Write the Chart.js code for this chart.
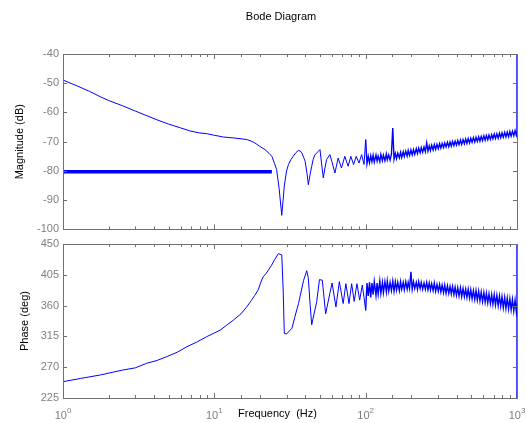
<!DOCTYPE html>
<html>
<head>
<meta charset="utf-8">
<script src="https://cdn.jsdelivr.net/npm/chart.js@4.4.0/dist/chart.umd.min.js"></script>
<style>
  body { margin: 0; background: #fff; }
  #wrap { position: relative; width: 526px; height: 423px; }
  canvas { position: absolute; left: 0; top: 0; }
</style>
</head>
<body>
<div id="wrap">
  <canvas id="mag" width="526" height="240"></canvas>
  <canvas id="phase" width="526" height="423"></canvas>
</div>
<script>
// magnitude, smooth part (Hz, dB)
const magFreq = [1, 1.2, 1.5, 1.76, 2, 2.5, 3, 3.5, 4.17, 5,
  6, 7, 8, 9, 10, 11.5, 13.3, 15, 16.5, 17.5,
  18.5, 20, 21.6, 23, 24, 25, 25.8, 26.8, 27.9, 29,
  30, 30.9, 32, 33.2, 34.5, 35.9, 37, 37.9, 39, 39.8,
  41, 41.8, 43, 44, 45, 46.3, 48.7, 49.9, 51, 52.5,
  53.8, 55.2, 58, 60, 62.6, 65.8, 69.2, 72.8, 76.6, 79.8,
  83.2, 86.6, 90.3, 94.1, 97.5];
const magDb = [-48.9, -50.6, -52.8, -54.6, -55.9, -57.8, -59.5, -60.9, -62.5, -64,
  -65.3, -66.4, -67, -67.3, -67.8, -68.4, -68.7, -69.0, -69.3, -69.8,
  -70.4, -71.6, -72.7, -74, -75, -77.5, -79.5, -86, -95.2, -85.2,
  -80, -77.8, -76.2, -75, -73.8, -73, -73.2, -73.9, -75.5, -76.7,
  -81, -84.7, -81, -78.4, -76, -74.4, -73.3, -72.7, -77, -82.4,
  -79, -76.1, -74.4, -77, -80.7, -75.6, -79, -75, -78.4, -75,
  -77.8, -75, -77.3, -74.4, -77.8];

// phase, smooth part (Hz, deg)
const phaseFreq = [1, 1.3, 1.76, 2.5, 3, 3.57, 4.2, 4.85, 5.7, 6.6,
  7.7, 8.9, 10, 10.9, 12, 13.4, 15, 16.4, 17.5, 18.5,
  19.5, 20.2, 21, 22, 23.9, 25, 26.5, 27.9, 28.5, 29,
  30, 32.6, 34, 36, 38.9, 40.8, 41.8, 43, 44, 47.5,
  49.5, 51.7, 54.4, 58, 60, 63.6, 67, 71, 74, 77.6,
  80.8, 84, 87.6, 91.3, 95, 97.5];
const phaseDeg = [248.8, 253.5, 258.6, 266, 269, 275.7, 280, 285.4, 292, 300,
  307, 314.6, 320, 324, 331, 339, 348, 358.4, 367, 375,
  383, 393, 402, 407, 419, 427, 436, 434, 383, 319.5,
  318.5, 327, 343, 363, 397, 411, 400, 360, 332, 366,
  398, 397, 348, 378, 393, 358, 395, 363, 392, 363,
  392, 366, 392, 368, 390, 372];

// noisy high-frequency part, shared frequencies
const noiseFreq = [100, 102, 104, 106, 108, 110, 112, 114, 117, 119,
  121, 124, 126, 129, 131, 134, 137, 139, 142, 145,
  148, 151, 154, 157, 160, 163, 167, 170, 173, 177,
  180, 184, 188, 191, 195, 199, 203, 207, 211, 216,
  220, 224, 229, 233, 238, 243, 248, 253, 258, 263,
  268, 273, 279, 284, 290, 296, 302, 308, 314, 320,
  327, 333, 340, 347, 354, 361, 368, 375, 383, 390,
  398, 406, 414, 423, 431, 440, 449, 458, 467, 476,
  486, 495, 505, 515, 526, 536, 547, 558, 569, 580,
  592, 604, 616, 628, 641, 653, 667, 680, 693, 707,
  721, 736, 751, 766, 781, 796, 812, 829, 845, 862,
  880, 897, 915, 933, 952, 971, 990, 1000];
const noiseMag = [-69.3, -77.5, -75.0, -77.2, -74.8, -76.8, -74.6, -77.0, -74.5, -76.6,
  -74.9, -76.8, -74.3, -76.4, -74.6, -76.5, -74.2, -76.2, -74.5, -76.3,
  -74.3, -65.3, -76.0, -74.0, -75.8, -73.9, -75.5, -73.6, -75.4, -73.4,
  -75.1, -73.2, -74.9, -73.0, -74.7, -72.8, -74.5, -72.7, -74.3, -72.4,
  -74.0, -72.2, -73.8, -72.0, -73.6, -71.8, -73.4, -70.4, -73.2, -71.4,
  -73.0, -71.2, -72.8, -71.0, -72.6, -70.9, -72.4, -70.7, -72.2, -70.6,
  -72.0, -70.4, -71.8, -70.2, -71.7, -70.1, -71.5, -69.9, -71.3, -69.8,
  -71.2, -69.6, -71.0, -69.4, -70.9, -69.3, -70.7, -69.1, -70.6, -68.9,
  -70.4, -68.8, -70.2, -68.6, -70.1, -68.5, -69.9, -68.3, -69.8, -68.2,
  -69.6, -68.0, -69.5, -67.9, -69.3, -67.7, -69.2, -67.6, -69.0, -67.4,
  -68.9, -67.3, -68.8, -67.1, -68.6, -67.0, -68.5, -66.8, -68.4, -66.7,
  -68.3, -66.5, -68.1, -66.4, -68.0, -66.2, -67.8, -66.5];
const noisePhase = [353, 393, 374, 394, 372, 393, 376, 395, 375, 393,
  377, 396, 378, 394, 379, 395, 380, 396, 381, 394,
  382, 396, 381, 395, 383, 394, 382, 395, 384, 394,
  383, 395, 384, 394, 385, 409.5, 384, 395, 385, 394,
  384, 395, 385, 394, 384, 393, 384, 394, 383, 393,
  383, 392, 382, 393, 381, 391, 381, 391, 380, 390,
  379, 390, 378, 389, 378, 388, 377, 388, 376, 387,
  375, 386, 374, 386, 373, 385, 373, 384, 372, 384,
  371, 383, 370, 382, 369, 382, 368, 381, 367, 380,
  366, 379, 365, 378, 364, 377, 363, 376, 362, 376,
  361, 375, 360, 374, 359, 373, 357, 372, 356, 371,
  355, 370, 354, 369, 352, 368, 351, 360];

// jump at the last sample (goes off the axes)
const magEndFreq = [1000];
const magEnd = [-35];
const phaseEndFreq = [1000, 1000];
const phaseEnd = [470, 200];

// thick flat line in the magnitude plot
const flatFreq = [1, 24];
const flatDb = [-80.3, -80.3];

const magTicks = [-100, -40, 10];
const phaseTicks = [225, 450, 45];
const decadeLabels = ['0', '1', '2', '3'];

const BLUE = '#0000ff';
const AXIS = '#707070';
const LABEL = '#7f7f7f';
Chart.defaults.font.family = '"Liberation Sans", Arial, sans-serif';
Chart.defaults.font.size = 11;

function toPoints(xs, ys) {
    return xs.map((x, i) => ({ x: x, y: ys[i] }));
}

// MATLAB style box with inward ticks on all four sides
const boxTicks = {
    id: 'boxTicks',
    afterDraw(chart, args, opts) {
        const { ctx, chartArea: a, scales } = chart;
        ctx.save();
        ctx.strokeStyle = AXIS;
        ctx.lineWidth = 1;
        ctx.beginPath();
        scales.x.ticks.forEach(t => {
            const px = Math.round(scales.x.getPixelForValue(t.value)) + 0.5;
            const lg = Math.log10(t.value);
            const len = Math.abs(lg - Math.round(lg)) < 1e-6 ? 5 : 3;
            ctx.moveTo(px, a.bottom); ctx.lineTo(px, a.bottom - len);
            ctx.moveTo(px, a.top); ctx.lineTo(px, a.top + len);
        });
        scales.y.ticks.forEach(t => {
            const py = Math.round(scales.y.getPixelForValue(t.value)) + 0.5;
            ctx.moveTo(a.left, py); ctx.lineTo(a.left + 4, py);
            ctx.moveTo(a.right, py); ctx.lineTo(a.right - 4, py);
        });
        ctx.stroke();
        ctx.strokeRect(Math.round(a.left) + 0.5, Math.round(a.top) + 0.5,
            Math.round(a.right - a.left), Math.round(a.bottom - a.top));

        if (opts.title) {
            ctx.fillStyle = '#000';
            ctx.font = '11px "Liberation Sans", Arial, sans-serif';
            ctx.textAlign = 'center';
            ctx.textBaseline = 'alphabetic';
            ctx.fillText(opts.title, 281, 20);
        }
        if (opts.xLabels) {
            ctx.textAlign = 'left';
            ctx.textBaseline = 'alphabetic';
            ctx.fillStyle = LABEL;
            decadeLabels.forEach(e => {
                const px = scales.x.getPixelForValue(Math.pow(10, +e));
                ctx.font = '11px "Liberation Sans", Arial, sans-serif';
                const w1 = ctx.measureText('10').width;
                ctx.font = '8px "Liberation Sans", Arial, sans-serif';
                const w2 = ctx.measureText(e).width;
                const x0 = px - (w1 + w2) / 2;
                ctx.font = '11px "Liberation Sans", Arial, sans-serif';
                ctx.fillText('10', x0, 419);
                ctx.font = '8px "Liberation Sans", Arial, sans-serif';
                ctx.fillText(e, x0 + w1, 413);
            });
            ctx.fillStyle = '#000';
            ctx.font = '11px "Liberation Sans", Arial, sans-serif';
            ctx.textAlign = 'center';
            ctx.fillText(opts.xLabels, 277.5, 417);
        }
        ctx.restore();
    }
};

function makeChart(id, datasets, yRange, yTitle, titlePad, padding, xHeight, extra) {
    return new Chart(document.getElementById(id), {
        type: 'line',
        data: { datasets: datasets },
        options: {
            responsive: false,
            animation: false,
            layout: { padding: padding },
            elements: { point: { radius: 0 }, line: { tension: 0 } },
            plugins: { legend: { display: false }, tooltip: { enabled: false }, boxTicks: extra },
            scales: {
                x: {
                    type: 'logarithmic', min: 1, max: 1000,
                    grid: { display: false }, border: { display: false },
                    ticks: { display: false },
                    afterFit: s => { s.height = xHeight; }
                },
                y: {
                    min: yRange[0], max: yRange[1],
                    grid: { display: false, drawTicks: false }, border: { display: false },
                    ticks: { stepSize: yRange[2], color: LABEL, padding: 4 },
                    title: { display: true, text: yTitle, color: '#000', padding: { top: titlePad, bottom: 0 } },
                    afterFit: s => { s.width = 63; }
                }
            }
        },
        plugins: [boxTicks]
    });
}

// smooth part runs into the first noisy sample; the dense noisy part renders as a thicker band
makeChart('mag', [
    { data: toPoints(magFreq.concat(noiseFreq[0]), magDb.concat(noiseMag[0])),
      borderColor: BLUE, borderWidth: 1 },
    { data: toPoints(noiseFreq.concat(magEndFreq), noiseMag.concat(magEnd)),
      borderColor: BLUE, borderWidth: 1.4 },
    { data: toPoints(flatFreq, flatDb), borderColor: BLUE, borderWidth: 3.5, borderCapStyle: 'butt' }
], magTicks, 'Magnitude (dB)', 13.5, { top: 54, left: 0, right: 9, bottom: 0 }, 10,
   { title: 'Bode Diagram' });

makeChart('phase', [
    { data: toPoints(phaseFreq.concat(noiseFreq[0]), phaseDeg.concat(noisePhase[0])),
      borderColor: BLUE, borderWidth: 1 },
    { data: toPoints(noiseFreq.concat(phaseEndFreq), noisePhase.concat(phaseEnd)),
      borderColor: BLUE, borderWidth: 1.4 }
], phaseTicks, 'Phase (deg)', 18, { top: 244, left: 0, right: 9, bottom: 0 }, 25,
   { xLabels: 'Frequency  (Hz)' });
</script>
</body>
</html>
